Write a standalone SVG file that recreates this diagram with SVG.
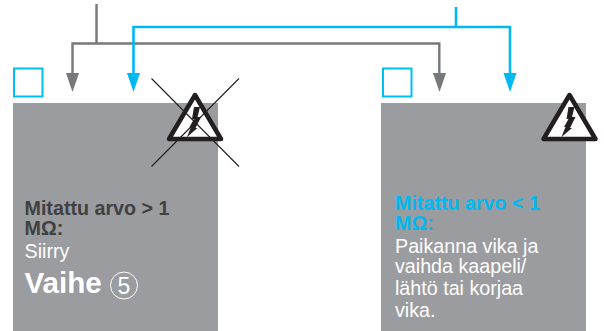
<svg xmlns="http://www.w3.org/2000/svg" width="604" height="331" viewBox="0 0 604 331">
<style>
.panel{fill:#9b9c9f}
.box{fill:#fff;stroke:#00bdf2;stroke-width:2}
.g{fill:none;stroke:#77787b;stroke-width:2.400}
.b{fill:none;stroke:#00b9f2;stroke-width:2.600}
.ga{fill:#77787b}
.ba{fill:#00b9f2}
.tri{fill:#fff;stroke:#231f20;stroke-width:4.500;stroke-linejoin:round}
.bolt{fill:#231f20}
.x{stroke:#231f20;stroke-width:1.100}
text{font-family:"Liberation Sans",Arial,sans-serif}
.h{font-size:19.700px;font-weight:bold}
.t{font-size:19.700px;fill:#fff}
</style>
<defs>
<g id="warn">
<path class="tri" d="M0,-44 L-26,0 L26,0 Z"/>
<path class="bolt" d="M-1,-32 L5,-32 L2.500,-22 L6,-22 L0.500,-11 L2.500,-11 L-8,-2 L-4,-12 L-5.500,-12 L-1,-20 L-3,-20 Z"/>
</g>
</defs>
<g id="connectors">
<path class="g" d="M96.500,4 V43.500"/>
<path class="g" d="M72.500,78 V43.500 H439.300 V78"/>
<path class="b" d="M456,7 V27"/>
<path class="b" d="M133.500,78 V27 H510 V78"/>
<path class="ga" d="M66,73 H79 L72.500,92 Z"/>
<path class="ga" d="M433,73 H446 L439.500,92 Z"/>
<path class="ba" d="M127,73 H140 L133.500,92 Z"/>
<path class="ba" d="M503.500,73 H516.500 L510,92 Z"/>
</g>
<g id="node-left">
<rect class="box" x="14" y="68.500" width="28.500" height="28"/>
<rect class="panel" x="13" y="103" width="205" height="228"/>
<use href="#warn" x="195" y="139"/>
<path class="x" d="M151.500,78.500 L239,166.500 M239,78.500 L151.500,166.500"/>
<text class="h" fill="#414042" x="24.500" y="215">Mitattu arvo &gt; 1</text>
<text class="h" fill="#414042" x="24.500" y="235">MΩ:</text>
<text class="t" x="24.500" y="258">Siirry</text>
<text x="24.500" y="293" font-size="29.600" font-weight="bold" fill="#fff">Vaihe</text>
<circle cx="124" cy="285.500" r="13.500" fill="none" stroke="#fff" stroke-width="1"/>
<text x="124" y="293.500" font-size="23" fill="#fff" text-anchor="middle">5</text>
</g>
<g id="node-right">
<rect class="box" x="383" y="68.500" width="28.500" height="28"/>
<rect class="panel" x="381" y="103" width="205" height="228"/>
<use href="#warn" x="569.500" y="139"/>
<text class="h" fill="#00b9f2" x="395" y="209.500">Mitattu arvo &lt; 1</text>
<text class="h" fill="#00b9f2" x="395" y="229.500">MΩ:</text>
<text class="t" x="395" y="253">Paikanna vika ja</text>
<text class="t" x="395" y="273">vaihda kaapeli/</text>
<text class="t" x="395" y="295">lähtö tai korjaa</text>
<text class="t" x="395" y="316.500">vika.</text>
</g>
</svg>
